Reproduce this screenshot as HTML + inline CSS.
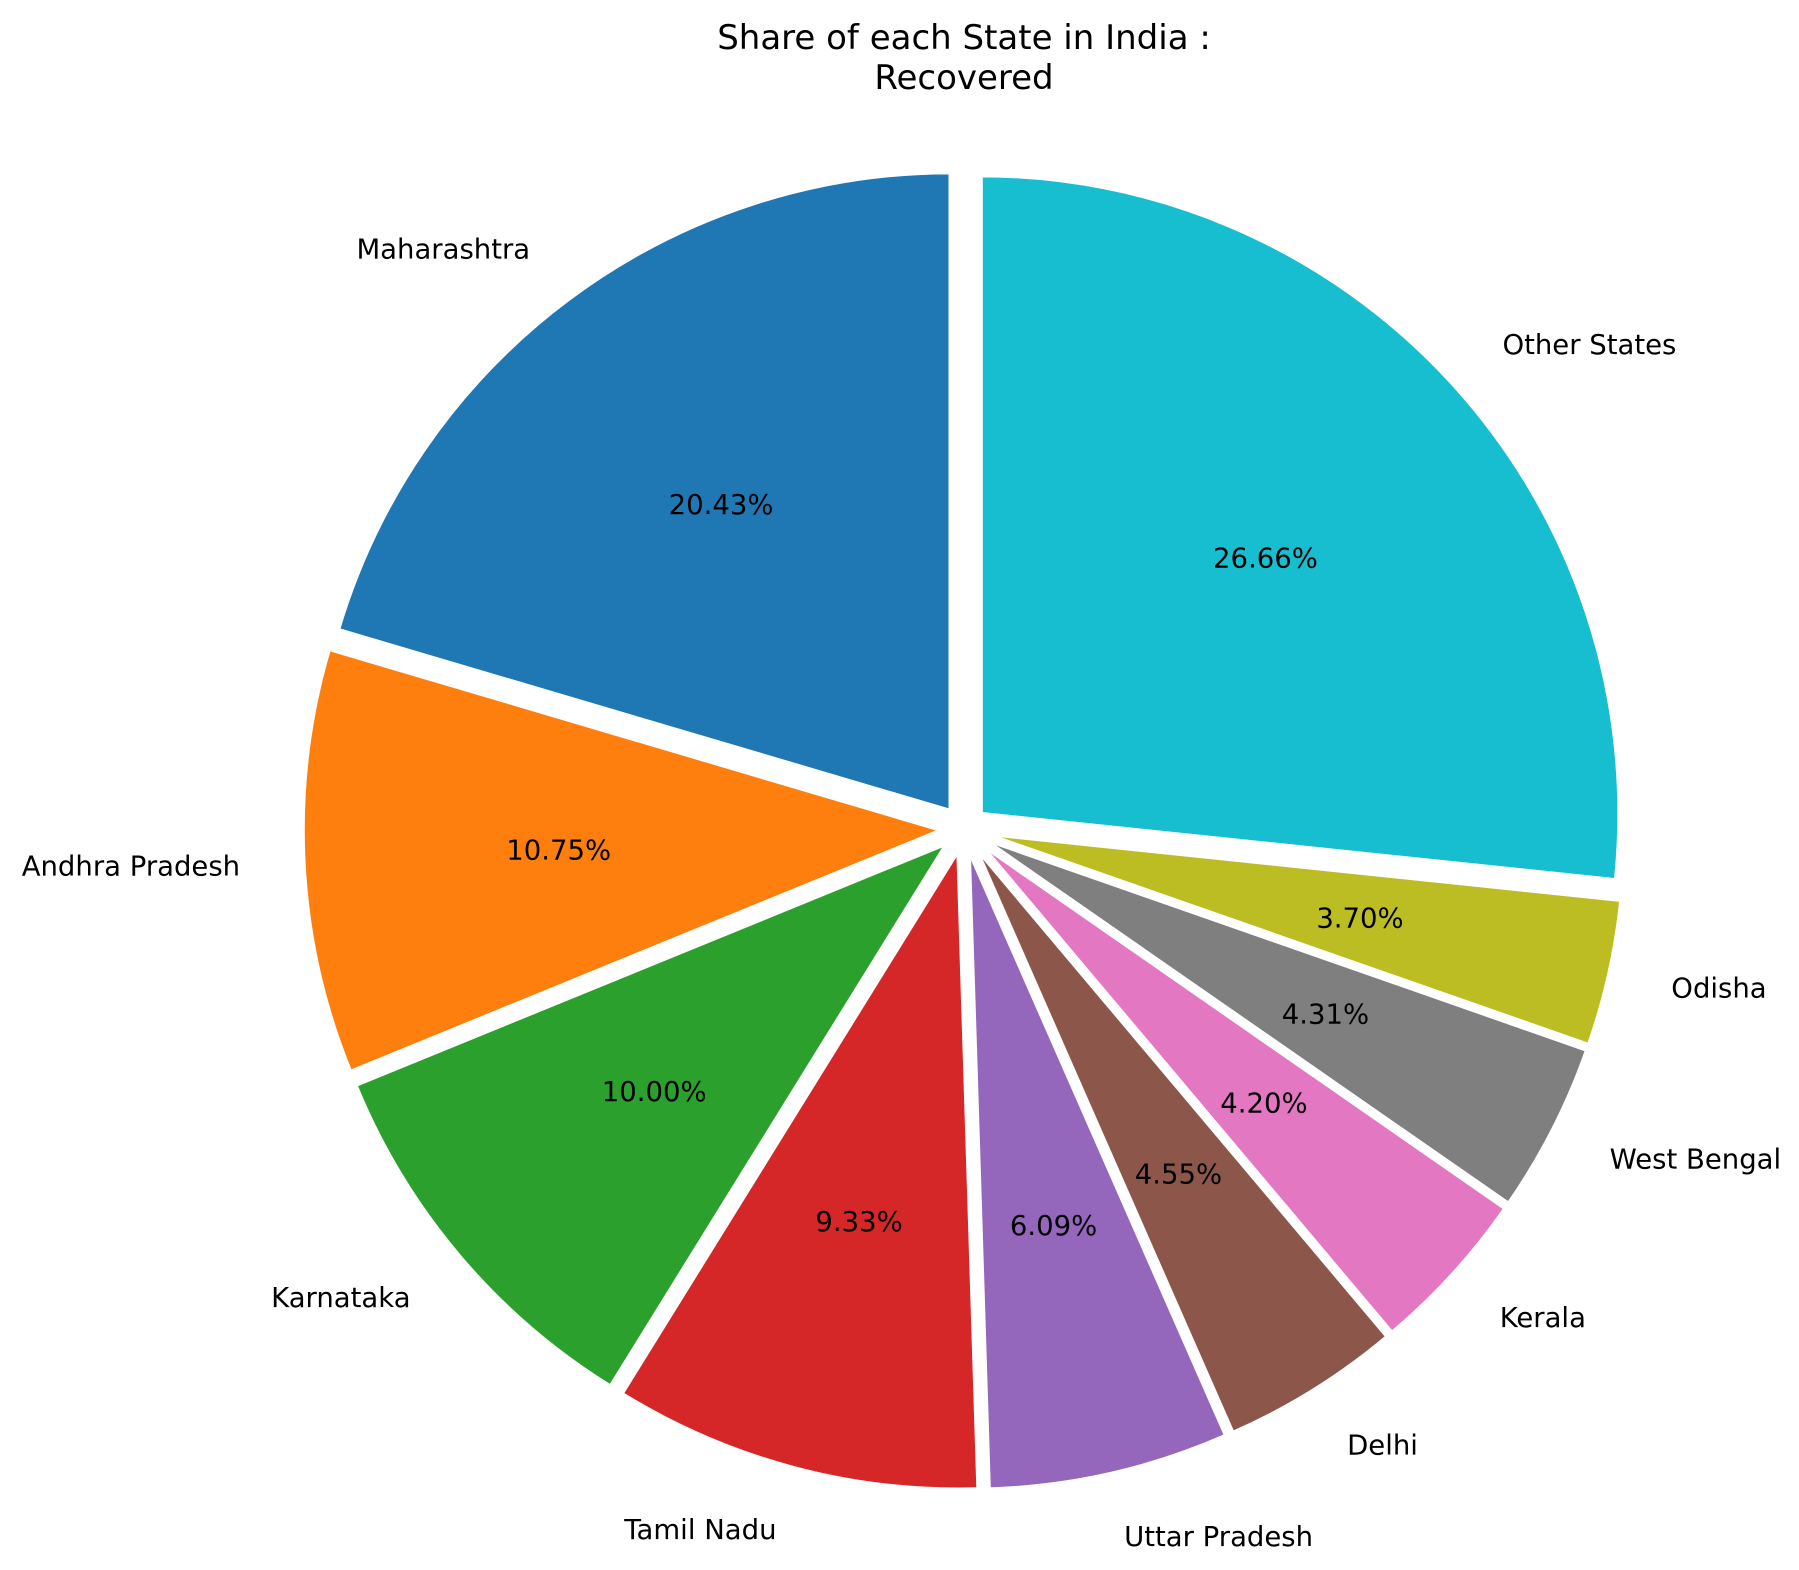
<!DOCTYPE html>
<html><head><meta charset="utf-8">
<style>
html,body{margin:0;padding:0;background:#fff;}
svg{display:block;font-family:"DejaVu Sans","Liberation Sans",sans-serif;}
</style></head>
<body>
<svg id="chart" width="1799" height="1570" viewBox="0 0 1799 1570">
<text x="964" y="49" text-anchor="middle" font-size="34" fill="#000">Share of each State in India :</text>
<text x="964" y="89" text-anchor="middle" font-size="34" fill="#000">Recovered</text>
<g id="slices"></g>
</svg>
<script>
const categories = ["Maharashtra","Andhra Pradesh","Karnataka","Tamil Nadu","Uttar Pradesh","Delhi","Kerala","West Bengal","Odisha","Other States"];
const values = [20.43,10.75,10.00,9.33,6.09,4.55,4.20,4.31,3.70,26.66];
const pctLabels = ["20.43%","10.75%","10.00%","9.33%","6.09%","4.55%","4.20%","4.31%","3.70%","26.66%"];
const colors = ["#1f77b4","#ff7f0e","#2ca02c","#d62728","#9467bd","#8c564b","#e377c2","#7f7f7f","#bcbd22","#17becf"];

const cx = 964, cy = 829, R = 638, off = 23;
const NS = "http://www.w3.org/2000/svg";
const g = document.getElementById("slices");
const total = values.reduce((a,b)=>a+b,0);
let ang = 90;
values.forEach((v,i)=>{
  const sweep = v/total*360;
  const a0 = ang, a1 = ang + sweep, mid = (a0+a1)/2;
  ang = a1;
  const rad = d=>d*Math.PI/180;
  const ox = cx + off*Math.cos(rad(mid)), oy = cy - off*Math.sin(rad(mid));
  const x0 = ox + R*Math.cos(rad(a0)), y0 = oy - R*Math.sin(rad(a0));
  const x1 = ox + R*Math.cos(rad(a1)), y1 = oy - R*Math.sin(rad(a1));
  const large = sweep > 180 ? 1 : 0;
  const p = document.createElementNS(NS,"path");
  p.setAttribute("d",`M${ox},${oy} L${x0},${y0} A${R},${R} 0 ${large} 0 ${x1},${y1} Z`);
  p.setAttribute("fill",colors[i]);
  p.setAttribute("stroke","#fff");
  p.setAttribute("stroke-width","3.5");
  p.setAttribute("stroke-linejoin","round");
  
  
  g.appendChild(p);
  const lx = ox + 1.1*R*Math.cos(rad(mid)), ly = oy - 1.1*R*Math.sin(rad(mid));
  const t = document.createElementNS(NS,"text");
  t.setAttribute("x",lx); t.setAttribute("y",ly+10);
  t.setAttribute("font-size","27.5");
  t.setAttribute("text-anchor", Math.cos(rad(mid))>=0 ? "start" : "end");
  t.textContent = categories[i];
  
  
  g.appendChild(t);
  const px = ox + 0.6*R*Math.cos(rad(mid)), py = oy - 0.6*R*Math.sin(rad(mid));
  const q = document.createElementNS(NS,"text");
  q.setAttribute("x",px); q.setAttribute("y",py+10);
  q.setAttribute("font-size","27.5");
  q.setAttribute("text-anchor","middle");
  q.textContent = pctLabels[i];
  
  
  g.appendChild(q);
});
</script>
</body></html>
